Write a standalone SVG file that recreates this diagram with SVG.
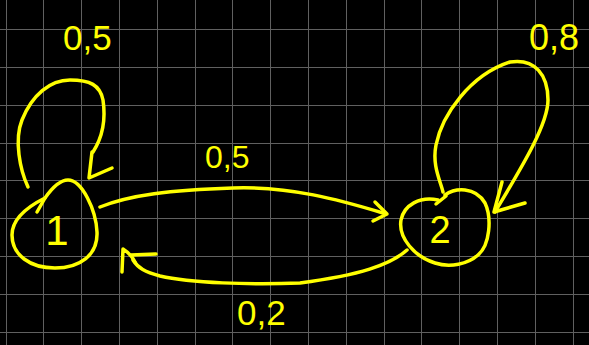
<svg xmlns="http://www.w3.org/2000/svg" width="589" height="345" viewBox="0 0 589 345">
<style>
.grid{stroke:#606060;stroke-width:1;fill:none}
.ink{stroke:#ffff00;stroke-width:3.5;fill:none;stroke-linecap:round;stroke-linejoin:round}
.lbl{fill:#ffff00;font-family:"Liberation Sans","DejaVu Sans",sans-serif}
</style>
<rect width="589" height="345" fill="#000"/>
<g id="grid" class="grid">
<path d="M6.5 0V345M43.5 0V345M81.5 0V345M119.5 0V345M157.5 0V345M195.5 0V345M232.5 0V345M270.5 0V345M308.5 0V345M346.5 0V345M384.5 0V345M421.5 0V345M459.5 0V345M497.5 0V345M535.5 0V345M573.5 0V345"/>
<path d="M0 29.5H589M0 67.5H589M0 105.5H589M0 143.5H589M0 180.5H589M0 218.5H589M0 256.5H589M0 294.5H589M0 332.5H589"/>
</g>
<g id="connectors">
<g id="loop1">
<path class="ink" d="M28,187 C20,170 14,140 22,120 C32,95 50,80 70,80 C90,80 100,85 103,100 C106,120 102,138 93,152"/>
<path class="ink" d="M92,152 L89,178 L112,168"/>
<text class="lbl" x="63" y="50" font-size="35">0,5</text>
</g>
<g id="loop2">
<path class="ink" d="M443,192 C440,180 432,165 436,145 C442,115 470,75 510,62 C535,58 548,75 548,100 C548,125 520,170 495,212"/>
<path class="ink" d="M502,182 L494,212 L525,203"/>
<text class="lbl" x="529" y="50" font-size="36">0,8</text>
</g>
<g id="e12">
<path class="ink" d="M100,207 C130,195 170,190 233,188 C290,186 340,200 383,213"/>
<path class="ink" d="M375,202 L387,214 L373,221"/>
<text class="lbl" x="205" y="168" font-size="32">0,5</text>
</g>
<g id="e21">
<path class="ink" d="M407,250 C390,265 360,275 300,283 C250,285 190,283 160,276 C145,272 138,268 133,260"/>
<path class="ink" d="M122,272 L123,249 C128,252 132,256 135,262"/>
<path class="ink" d="M131,255 L156,254"/>
<text class="lbl" x="237" y="325" font-size="35">0,2</text>
</g>
</g>
<g id="node1">
<path class="ink" d="M45,198 C52,188 60,180 68,180 C82,180 96,210 97,232 C98,255 80,268 55,268 C30,268 12,255 12,235 C12,220 25,208 45,198"/>
<path class="ink" d="M37,212 L45,198"/>
<text class="lbl" x="57" y="245" font-size="42" text-anchor="middle">1</text>
</g>
<g id="node2">
<path class="ink" d="M445,195 C455,188 475,186 485,203 C492,218 490,245 478,255 C468,264 450,268 435,263 C415,257 398,238 401,220 C404,205 420,196 438,200"/>
<path class="ink" d="M436,204 L446,196"/>
<text class="lbl" x="440" y="243" font-size="38" text-anchor="middle">2</text>
</g>
</svg>
